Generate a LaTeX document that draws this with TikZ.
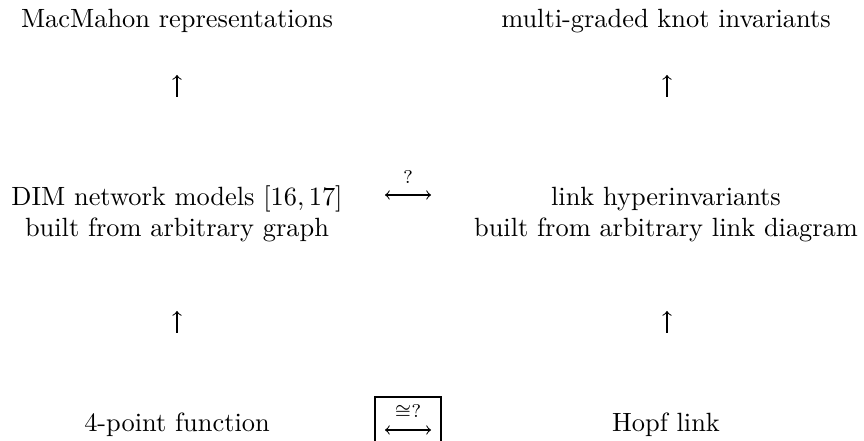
\documentclass[tikz,border=0pt]{standalone}
\newdimen\px \px=0.379pt
\tikzset{item/.style={anchor=base,inner sep=0pt,align=center},
         uparr/.style={->},
         relarr/.style={<->},
         rellabel/.style={above=11\px,inner sep=0pt}}

\begin{document}
\begin{tikzpicture}[x=0.379pt,y=-0.379pt]
  \useasboundingbox (0,0) rectangle (864,441);
  \clip (0,0) rectangle (864,441);
  % top row
  \node[item] (mac) at (177,28) {MacMahon representations};
  \node[item] (multi) at (666,28) {multi-graded knot invariants};
  % middle row (base = last line)
  \node[item] (dim) at (177,237) {DIM network models $[16,17]$\\built from arbitrary graph};
  \node[item] (hyper) at (666,237) {link hyperinvariants\\built from arbitrary link diagram};
  % bottom row
  \node[item] (fourpt) at (177,432) {4-point function};
  \node[item] (hopf) at (666,432) {Hopf link};
  % arrow ends
  \coordinate (lu1) at (177,97);  \coordinate (lu2) at (177,75);
  \coordinate (ru1) at (667,97);  \coordinate (ru2) at (667,75);
  \coordinate (ld1) at (177,333); \coordinate (ld2) at (177,311);
  \coordinate (rd1) at (667,333); \coordinate (rd2) at (667,311);
  \coordinate (m1) at (385,195);  \coordinate (m2) at (431,195);
  \coordinate (b1) at (385,430);  \coordinate (b2) at (431,430);
  \draw[uparr] (lu1) -- (lu2);
  \draw[uparr] (ru1) -- (ru2);
  \draw[uparr] (ld1) -- (ld2);
  \draw[uparr] (rd1) -- (rd2);
  \draw[relarr] (m1) -- (m2) node[midway,rellabel] (q) {$\scriptstyle ?$};
  \draw[relarr] (b1) -- (b2) node[midway,rellabel] (iq) {$\scriptstyle\cong ?$};
  \draw (375,460) |- (441,397) -- (441,460);
\end{tikzpicture}
\end{document}
